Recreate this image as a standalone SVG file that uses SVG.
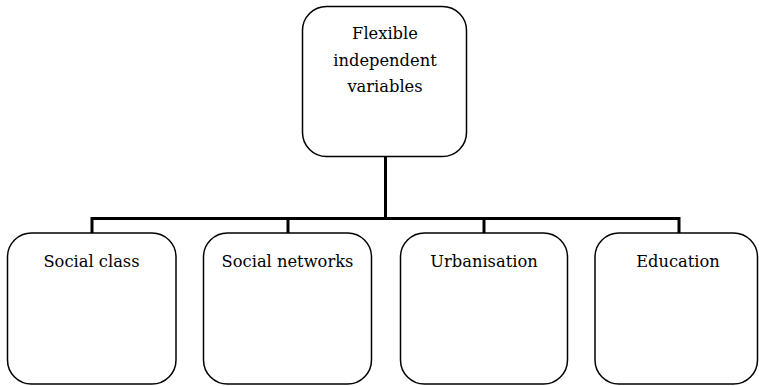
<svg xmlns="http://www.w3.org/2000/svg" width="759" height="386" viewBox="0 0 759 386">
<style>
.box{fill:#fff;stroke:#000;stroke-width:1.5}
.lbl{font-family:'DejaVu Serif',serif;font-size:16.3px;fill:#000;text-anchor:middle}
.con{fill:none;stroke:#000;stroke-width:3}
</style>
<rect width="759" height="386" fill="#fff"/>
<g id="connectors">
<line class="con" x1="385.5" y1="157" x2="385.5" y2="218.5"/>
<polyline class="con" points="92,233 92,218.5 679,218.5 679,233"/>
<line class="con" x1="288" y1="218.5" x2="288" y2="233"/>
<line class="con" x1="484" y1="218.5" x2="484" y2="233"/>
</g>
<g id="n-top">
<rect class="box" x="302.5" y="6.5" width="164" height="150" rx="24"/>
<text class="lbl" x="385" y="39">Flexible</text>
<text class="lbl" x="385" y="66">independent</text>
<text class="lbl" x="385" y="92">variables</text>
</g>
<g id="n-social-class">
<rect class="box" x="7.5" y="233" width="168.5" height="151" rx="24"/>
<text class="lbl" x="91.5" y="267">Social class</text>
</g>
<g id="n-social-networks">
<rect class="box" x="203.5" y="233" width="168" height="151" rx="24"/>
<text class="lbl" x="287.5" y="267">Social networks</text>
</g>
<g id="n-urbanisation">
<rect class="box" x="400.5" y="233" width="167" height="151" rx="24"/>
<text class="lbl" x="484" y="267">Urbanisation</text>
</g>
<g id="n-education">
<rect class="box" x="595" y="233" width="162.5" height="151" rx="24"/>
<text class="lbl" x="678" y="267">Education</text>
</g>
</svg>
